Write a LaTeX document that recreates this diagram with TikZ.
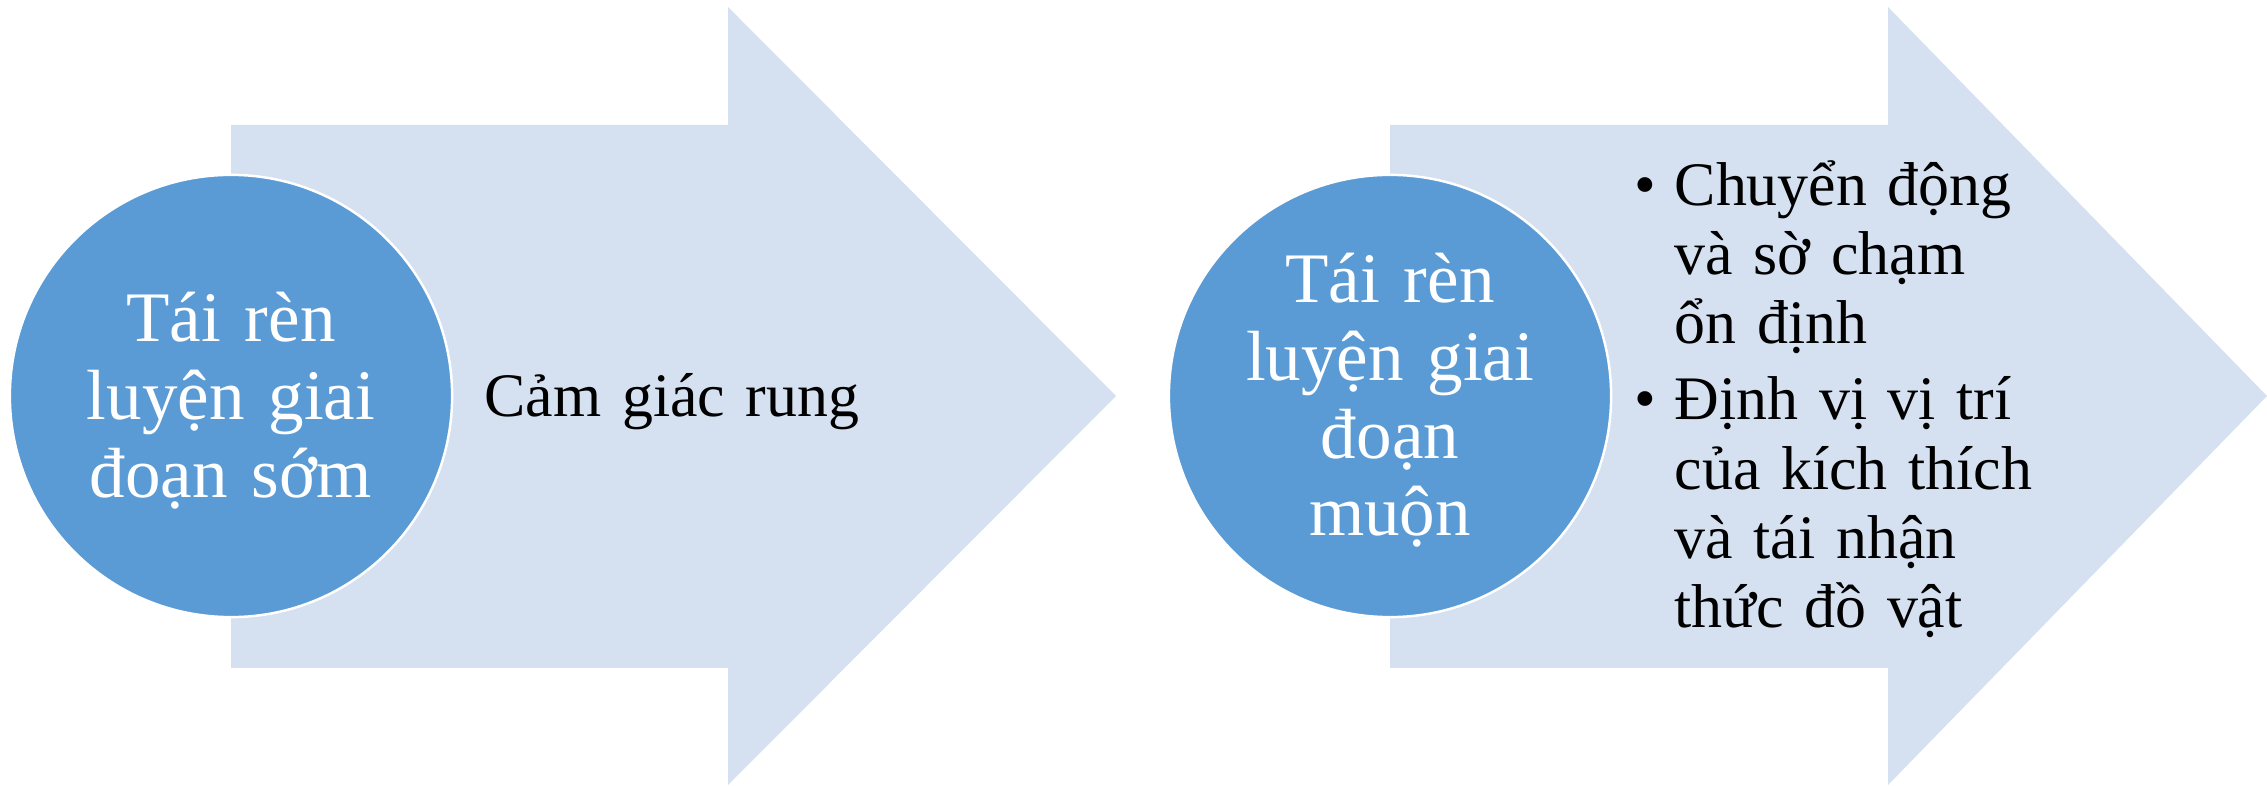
\documentclass[tikz,border=0pt]{standalone}
\usepackage{fontspec}
\setmainfont{Liberation Serif}
\definecolor{arrowfill}{RGB}{213,225,240}
\definecolor{circfill}{RGB}{91,155,213}
\newcommand{\circfont}{\fontsize{20.2pt}{22.05pt}\selectfont\lineskiplimit=-100pt\relax}
\newcommand{\arrfont}{\fontsize{17.6pt}{19.63pt}\selectfont\lineskiplimit=-100pt\relax}
\begin{document}
\begin{tikzpicture}[x=0.01cm,y=-0.01cm,
  bigarrow/.style={fill=arrowfill,draw=none},
  circ/.style={circle,fill=circfill,draw=white,line width=0.7pt,minimum size=4.42cm,inner sep=0pt},
  circtext/.style={anchor=base,text width=4.2cm,align=center,inner sep=0pt,text=white,font=\circfont},
  arrtext/.style={anchor=base west,text width=6cm,align=left,inner sep=0pt,text=black,font=\arrfont},
  bullet/.style={anchor=base,inner sep=0pt,text=black,font=\arrfont}]
\useasboundingbox (0,0) rectangle (2267,786);
% left arrow
\fill[bigarrow] (231,125) -- (728,125) -- (728,7) -- (1116,396) -- (728,785) -- (728,668) -- (231,668) -- cycle;
% right arrow
\fill[bigarrow] (1390,125) -- (1888,125) -- (1888,7) -- (2267,396) -- (1888,785) -- (1888,668) -- (1390,668) -- cycle;
% circles
\node[circ] (c1) at (231,396) {};
\node[circ] (c2) at (1390,396) {};
% circle texts
\node[circtext] (t1) at (231,342) {Tái rèn\\luyện giai\\đoạn sớm};
\node[circtext] (t2) at (1390,303) {Tái rèn\\luyện giai\\đoạn\\muộn};
% arrow texts
\node[arrtext] (a1) at (484,417) {Cảm giác rung};
\node[bullet] (b1) at (1645,205.5) {•};
\node[arrtext] (a2) at (1674,205.5) {Chuyển động\\và sờ chạm\\ổn định};
\node[bullet] (b2) at (1645,420) {•};
\node[arrtext] (a3) at (1674,420) {Định vị vị trí\\của kích thích\\và tái nhận\\thức đồ vật};
\end{tikzpicture}
\end{document}
